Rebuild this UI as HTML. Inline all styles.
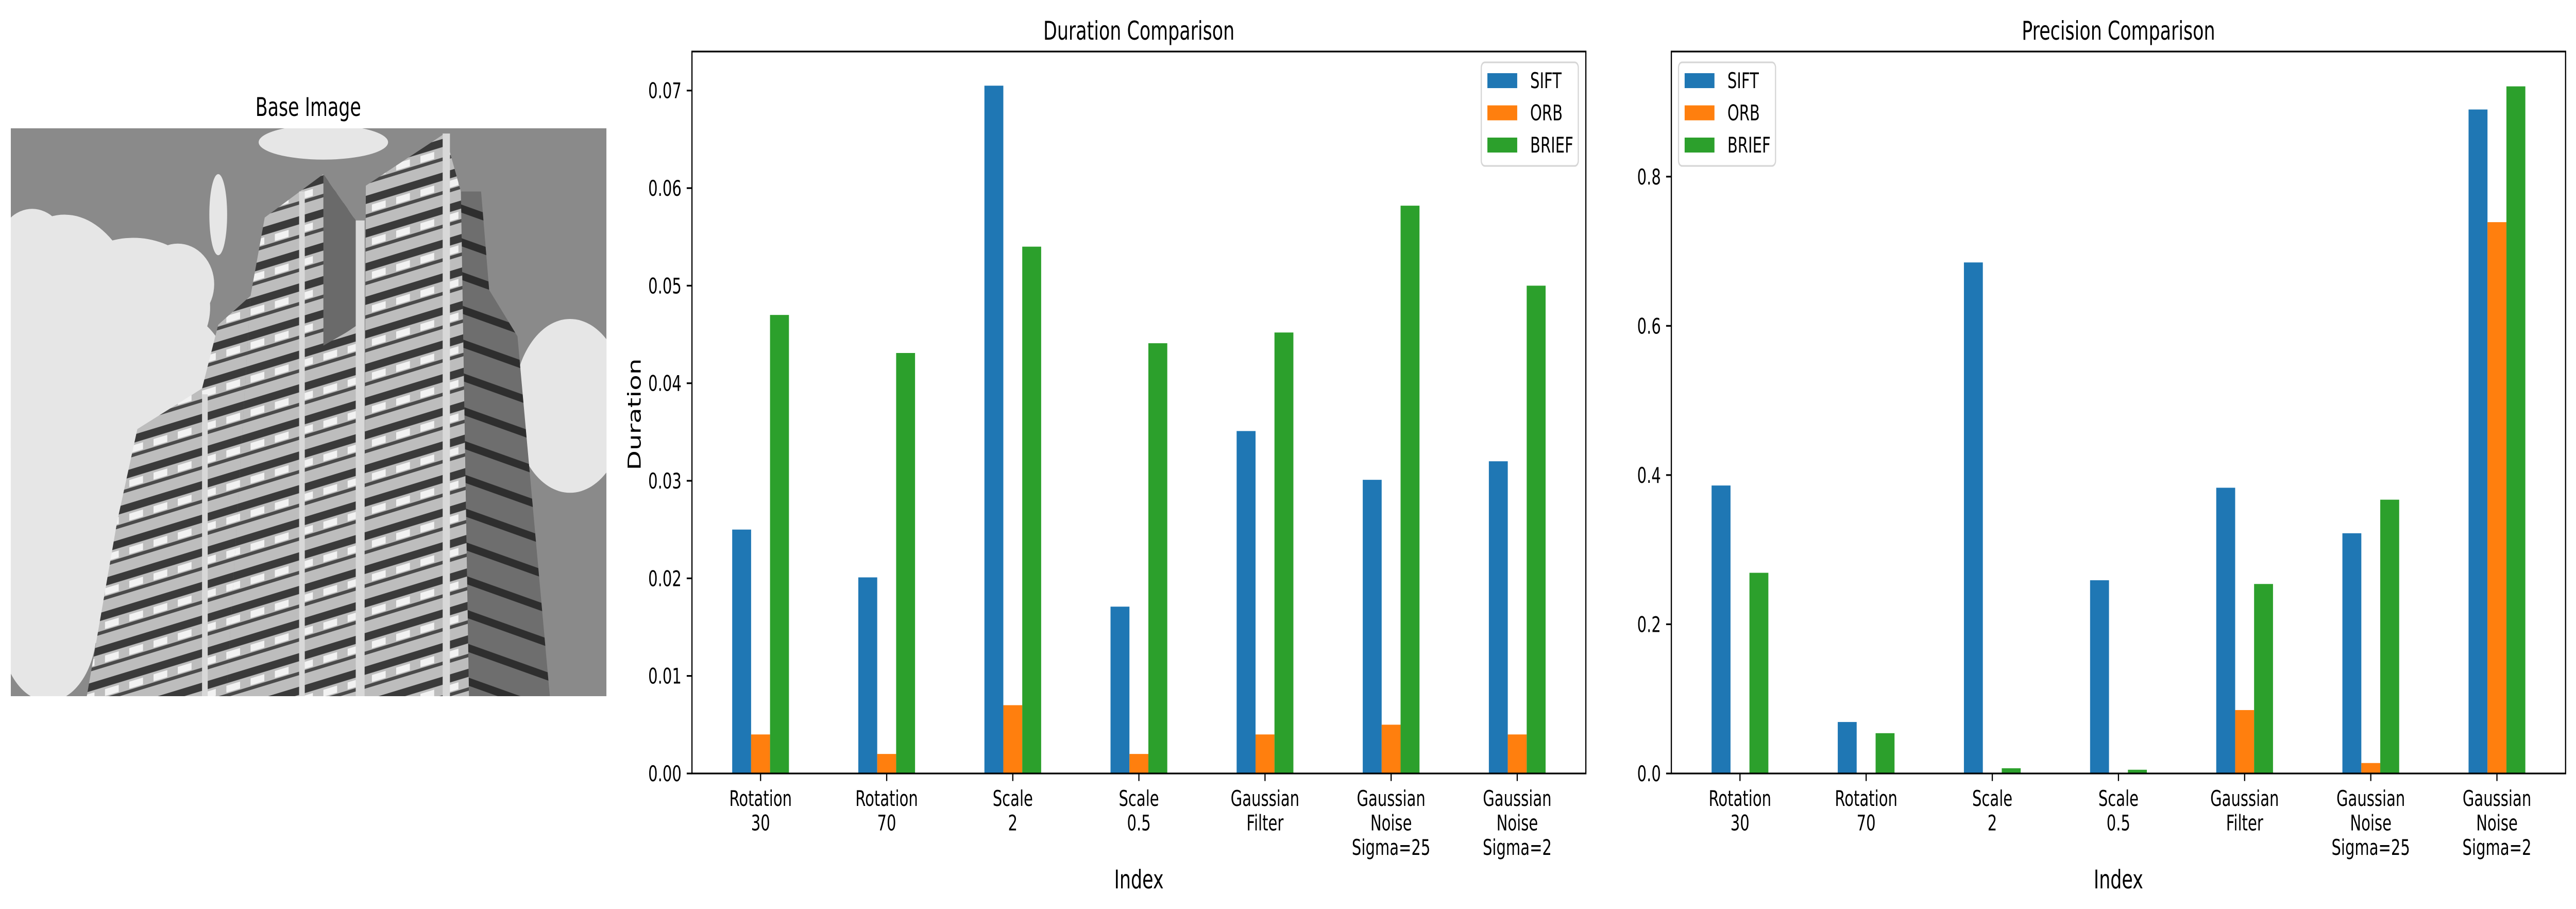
<!DOCTYPE html>
<html><head><meta charset="utf-8"><style>
html,body{margin:0;padding:0;background:#fff;width:100%;height:100%;overflow:hidden;}
#fig{display:block;width:100vw;height:100vh;}
svg text{font-family:"DejaVu Sans","Liberation Sans",sans-serif;fill:#000;}
</style></head><body>
<svg id="fig" xmlns="http://www.w3.org/2000/svg" viewBox="0 0 7170 1764" preserveAspectRatio="none">
<rect x="0" y="0" width="7170" height="1764" fill="#fff"/>
<g>
<text x="858" y="225" font-size="50" text-anchor="middle">Base Image</text>
<svg x="30" y="249" width="1658" height="1102" viewBox="27 221 1473 980" preserveAspectRatio="none">
<defs>
<pattern id="win" patternUnits="userSpaceOnUse" width="60" height="58" patternTransform="skewY(-12)">
<rect width="60" height="58" fill="#bdbdbd"/>
<rect y="8" width="60" height="14" fill="#3a3a3a"/>
<rect x="20" y="26" width="34" height="12" fill="#f2f2f2"/>
<rect x="0" y="40" width="60" height="6" fill="#4a4a4a"/>
</pattern>
<pattern id="side" patternUnits="userSpaceOnUse" width="40" height="58" patternTransform="skewY(14)">
<rect width="40" height="58" fill="#6e6e6e"/>
<rect y="10" width="40" height="14" fill="#2e2e2e"/>
</pattern>
</defs>
<rect x="27" y="221" width="1473" height="980" fill="#8a8a8a"/>
<g fill="#e6e6e6">
<ellipse cx="160" cy="600" rx="200" ry="230"/><ellipse cx="330" cy="530" rx="190" ry="120"/>
<ellipse cx="440" cy="490" rx="90" ry="70"/><ellipse cx="220" cy="870" rx="230" ry="240"/>
<ellipse cx="120" cy="1080" rx="120" ry="130"/><ellipse cx="400" cy="660" rx="170" ry="130"/>
<ellipse cx="80" cy="420" rx="80" ry="60"/><ellipse cx="1410" cy="700" rx="140" ry="150"/>
<ellipse cx="800" cy="245" rx="160" ry="30"/><ellipse cx="540" cy="370" rx="22" ry="70"/>
</g>
<polygon points="1140,330 1190,330 1210,500 1280,580 1360,1201 1160,1201" fill="url(#side)"/>
<polygon points="905,320 1100,230 1140,330 1160,1201 900,1201" fill="url(#win)"/>
<polygon points="655,375 800,300 880,380 890,1201 560,1201 620,510" fill="url(#win)"/>
<polygon points="800,300 880,380 885,560 800,600" fill="#6a6a6a"/>
<polygon points="340,740 500,670 540,560 620,510 560,1201 215,1201 290,900" fill="url(#win)"/>
<polygon points="790,600 890,560 880,1201 745,1201" fill="url(#win)"/>
<g fill="#d8d8d8"><rect x="1095" y="230" width="18" height="971"/><rect x="880" y="380" width="22" height="821"/><rect x="740" y="330" width="14" height="871"/><rect x="500" y="680" width="14" height="521"/></g>
</svg>
</g>
<g id="dur"></g>
<g id="prec"></g>
</svg>
<script>
const categories = [["Rotation","30"],["Rotation","70"],["Scale","2"],["Scale","0.5"],["Gaussian","Filter"],["Gaussian","Noise","Sigma=25"],["Gaussian","Noise","Sigma=2"]];
const seriesNames = ["SIFT","ORB","BRIEF"];
const durationSIFT = [0.025,0.0201,0.0705,0.0171,0.0351,0.0301,0.032];
const durationORB = [0.004,0.002,0.007,0.002,0.004,0.005,0.004];
const durationBRIEF = [0.047,0.0431,0.054,0.0441,0.0452,0.0582,0.050];
const precisionSIFT = [0.386,0.069,0.685,0.259,0.383,0.322,0.890];
const precisionORB = [0,0,0,0,0.085,0.014,0.739];
const precisionBRIEF = [0.269,0.054,0.007,0.005,0.254,0.367,0.921];
const durationTicks = ["0.00","0.01","0.02","0.03","0.04","0.05","0.06","0.07"];
const precisionTicks = ["0.0","0.2","0.4","0.6","0.8"];
const colors = ["#1f77b4","#ff7f0e","#2ca02c"];
const NS="http://www.w3.org/2000/svg";
function mk(tag,attrs,parent){const e=document.createElementNS(NS,tag);for(const k in attrs)e.setAttribute(k,attrs[k]);parent.appendChild(e);return e;}
function drawChart(g,cfg){
  const L=cfg.left,R=cfg.right,T=100,B=1501;
  const n=categories.length, m=0.544;
  const step=(R-L)/(n-1+2*m);
  const xs=i=>L+(i+m)*step;
  const ys=v=>B-(v/cfg.ymax)*(B-T);
  const bw=0.15*step;
  cfg.series.forEach((arr,s)=>{
    arr.forEach((v,i)=>{
      const x=xs(i)+(s-1)*bw-bw/2;
      const r=mk('rect',{x:x,y:ys(v),width:bw,height:B-ys(v),fill:colors[s]},g);
      
      
    });
  });
  const box=mk('rect',{x:L,y:T,width:R-L,height:B-T,fill:'none',stroke:'#000','stroke-width':3.3},g);
  
  
  cfg.ticks.forEach((t,k)=>{
    const v=parseFloat(t), y=ys(v);
    const tl=mk('line',{x1:L-14.6,x2:L,y1:y,y2:y,stroke:'#000','stroke-width':3.3},g);
    
    
    const tx=mk('text',{x:L-29,y:y+15,'font-size':41.7,'text-anchor':'end'},g);
    tx.textContent=t;
    
    
  });
  categories.forEach((c,i)=>{
    const x=xs(i);
    const tl=mk('line',{x1:x,x2:x,y1:B,y2:B+14.6,stroke:'#000','stroke-width':3.3},g);
    
    
    const tx=mk('text',{x:x,y:1564,'font-size':41.7,'text-anchor':'middle'},g);
    
    
    c.forEach((line,j)=>{const ts=mk('tspan',{x:x,dy:j?47.5:0},tx);ts.textContent=line;});
  });
  const title=mk('text',{x:(L+R)/2,y:77,'font-size':50,'text-anchor':'middle'},g);
  title.textContent=cfg.title;
  
  
  const xl=mk('text',{x:(L+R)/2,y:1724,'font-size':50,'text-anchor':'middle'},g);
  xl.textContent='Index';
  
  
  if(cfg.ylabel){
    const yl=mk('text',{x:0,y:0,'font-size':50,'text-anchor':'middle',transform:'translate(1783,804) rotate(-90)'},g);
    yl.textContent=cfg.ylabel;
    
    
  }
  const lx=cfg.legendX;
  const lg=mk('g',{},g);
  
  
  mk('rect',{x:lx,y:121,width:270,height:201,rx:10,fill:'#fff','fill-opacity':0.8,stroke:'#d6d6d6','stroke-width':3.3},lg);
  seriesNames.forEach((s,k)=>{
    const y=142+k*62.5;
    const p=mk('rect',{x:lx+17,y:y,width:83,height:29,fill:colors[k]},lg);
    
    
    const t=mk('text',{x:lx+136,y:y+29,'font-size':41.7},lg);
    t.textContent=s;
    
    
  });
}
drawChart(document.getElementById('dur'),{left:1926,right:4414,ymax:0.074,ticks:durationTicks,series:[durationSIFT,durationORB,durationBRIEF],title:'Duration Comparison',ylabel:'Duration',legendX:4123});
drawChart(document.getElementById('prec'),{left:4652,right:7141,ymax:0.9677,ticks:precisionTicks,series:[precisionSIFT,precisionORB,precisionBRIEF],title:'Precision Comparison',ylabel:null,legendX:4672});
</script>
</body></html>
